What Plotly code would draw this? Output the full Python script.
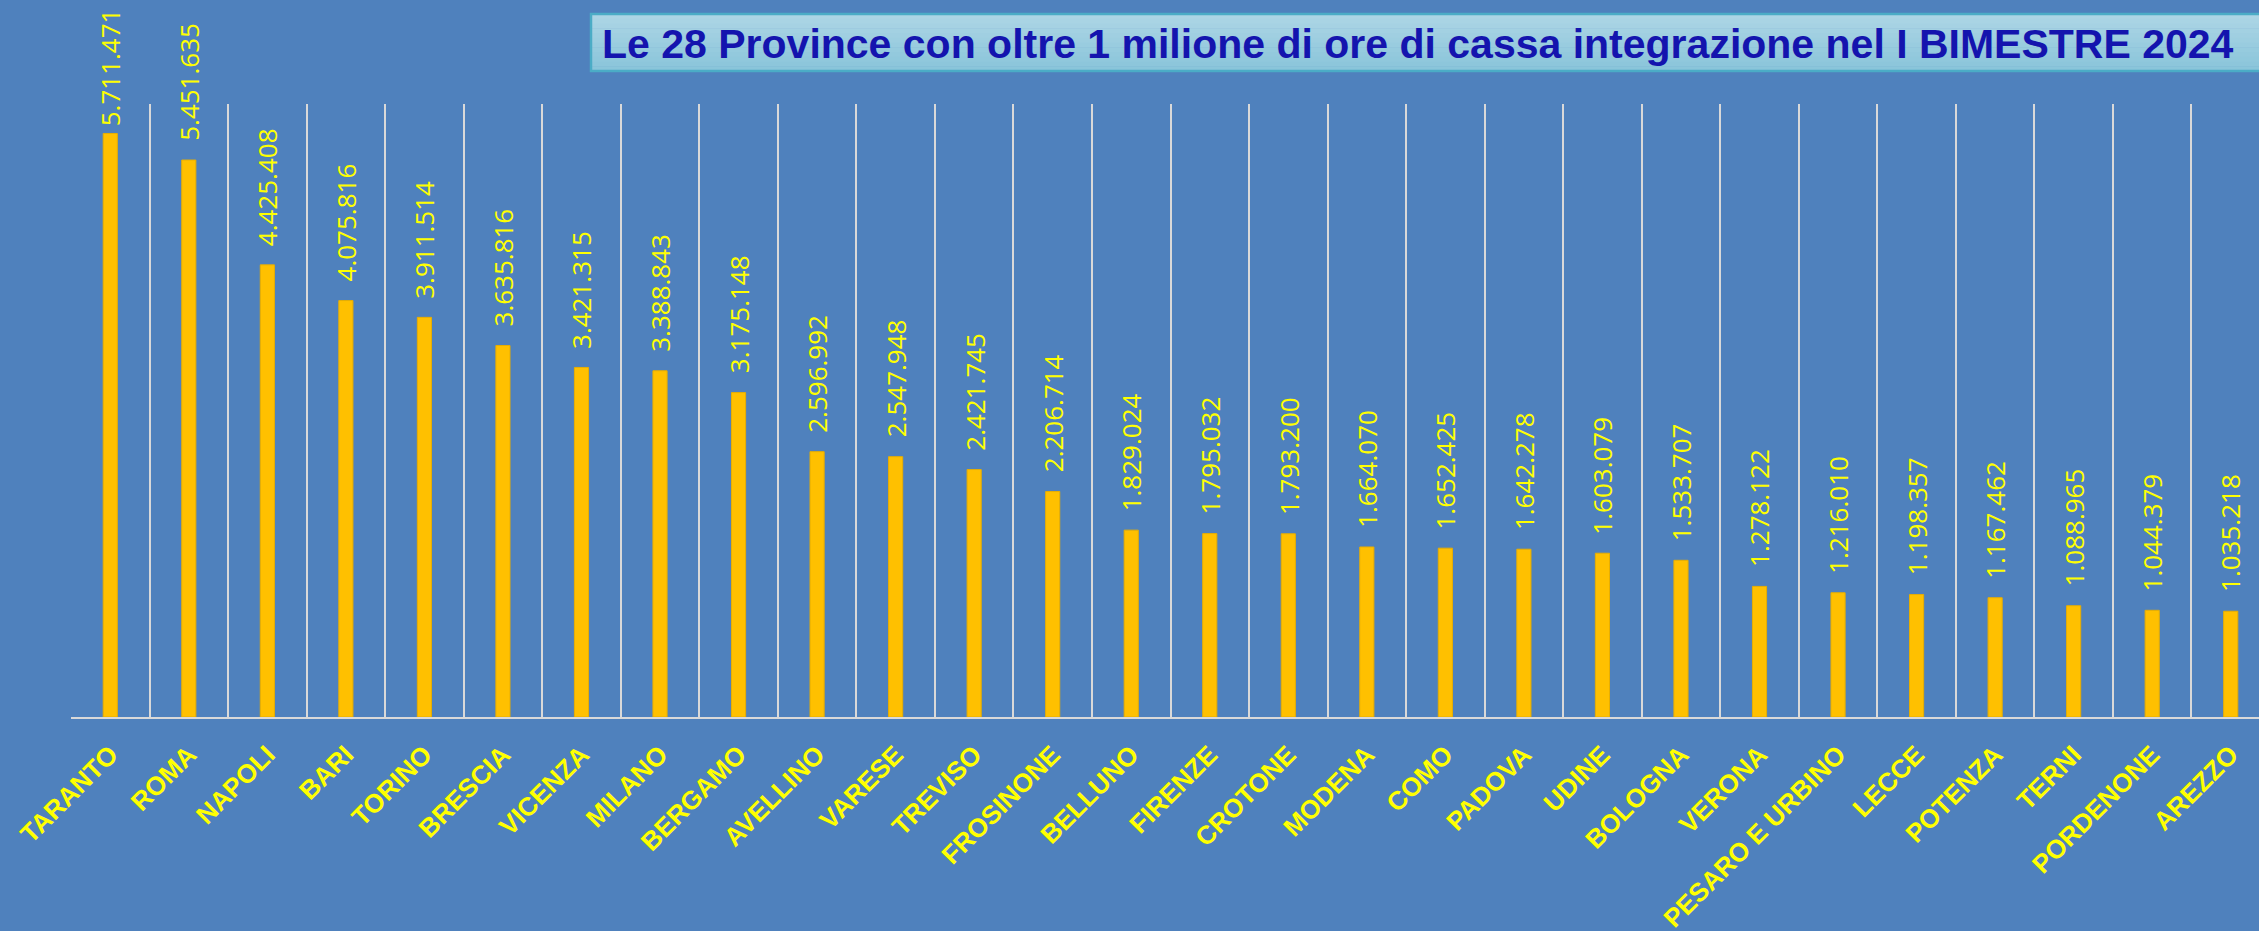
import plotly.graph_objects as go

provinces = ["TARANTO", "ROMA", "NAPOLI", "BARI", "TORINO", "BRESCIA", "VICENZA",
             "MILANO", "BERGAMO", "AVELLINO", "VARESE", "TREVISO", "FROSINONE",
             "BELLUNO", "FIRENZE", "CROTONE", "MODENA", "COMO", "PADOVA", "UDINE",
             "BOLOGNA", "VERONA", "PESARO E URBINO", "LECCE", "POTENZA", "TERNI",
             "PORDENONE", "AREZZO"]
ore = [5711471, 5451635, 4425408, 4075816, 3911514, 3635816, 3421315,
       3388843, 3175148, 2596992, 2547948, 2421745, 2206714,
       1829024, 1795032, 1793200, 1664070, 1652425, 1642278, 1603079,
       1533707, 1278122, 1216010, 1198357, 1167462, 1088965,
       1044379, 1035218]
title_text = "Le 28 Province con oltre 1 milione di ore di cassa integrazione nel I BIMESTRE 2024"

BG = "#4F81BD"
W, H = 2259, 931
ML, MT, MB = 71, 104, 214
YMAX = 6000000

def fmt(v):
    return f"{v:,}".replace(",", ".")

fig = go.Figure()
fig.add_trace(go.Bar(
    x=provinces, y=ore,
    width=0.18,
    marker=dict(color="#FFC000", line=dict(color="#E8AE00", width=1)),
    hoverinfo="x+y",
))

pw = W - ML
ph = H - MT - MB

annotations = []
LABEL_LEN = 118  # approx rendered length of a rotated data label (px)
for p, v in zip(provinces, ore):
    bar_top_px = MT + ph * (1 - v / YMAX)
    # keep label inside the canvas like the original (pushed down when it would overflow)
    shift = min(17, bar_top_px - 10 - LABEL_LEN)
    annotations.append(dict(
        x=p, y=v, xref="x", yref="y", text=fmt(v), showarrow=False,
        textangle=-90, xanchor="center", yanchor="bottom", yshift=shift,
        font=dict(family="Open Sans, Liberation Sans, sans-serif", size=26, color="#FFFF00"),
    ))

def px_x(x):
    return (x - ML) / pw
def px_y(y):
    return (H - MB - y) / ph

shapes = []
top, bot = 14, 71
n = 12
c0 = (0xAC, 0xD5, 0xE5)
c1 = (0x8A, 0xC5, 0xDA)
for i in range(n):
    t = i / (n - 1)
    c = tuple(round(a + (b - a) * t) for a, b in zip(c0, c1))
    y0 = top + (bot - top) * i / n
    y1 = top + (bot - top) * (i + 1) / n
    shapes.append(dict(type="rect", xref="paper", yref="paper",
                       x0=px_x(591), x1=px_x(2275), y0=px_y(y1 + 0.5), y1=px_y(y0),
                       fillcolor="rgb(%d,%d,%d)" % c, line=dict(width=0), layer="above"))
shapes.append(dict(type="rect", xref="paper", yref="paper",
                   x0=px_x(591), x1=px_x(2275), y0=px_y(bot), y1=px_y(top),
                   fillcolor="rgba(0,0,0,0)", line=dict(color="#4BACC6", width=2.5), layer="above"))

annotations.append(dict(
    xref="paper", yref="paper", x=px_x(600), y=px_y(44), xanchor="left", yanchor="middle",
    text="<b>" + title_text + "</b>", showarrow=False,
    font=dict(family="Liberation Sans, Arial, sans-serif", size=41, color="#1414AE"),
))

fig.update_layout(
    width=W, height=H,
    paper_bgcolor=BG, plot_bgcolor=BG,
    margin=dict(l=ML, r=0, t=MT, b=MB, pad=0),
    showlegend=False,
    bargap=0.82,
    shapes=shapes,
    annotations=annotations,
    xaxis=dict(
        type="category", range=[-0.5, 27.36],
        tickson="boundaries", showgrid=True, gridcolor="#D9D9D9", gridwidth=1.5,
        showline=True, linecolor="#D9D9D9", linewidth=2,
        ticks="", tickangle=-45, ticklabelstandoff=10,
        tickfont=dict(family="Liberation Sans, Arial, sans-serif", size=26, color="#FFFF00", weight="bold"),
        automargin=False, fixedrange=True,
    ),
    yaxis=dict(
        range=[0, YMAX], showgrid=False, zeroline=False, showticklabels=False,
        showline=False, automargin=False, fixedrange=True,
    ),
)

fig.write_html(
    "out.html",
    config={"displayModeBar": False},
    post_script="document.body.style.margin='0';document.body.style.background='%s';"
                "document.documentElement.style.background='%s';document.body.style.overflow='hidden';" % (BG, BG),
)
